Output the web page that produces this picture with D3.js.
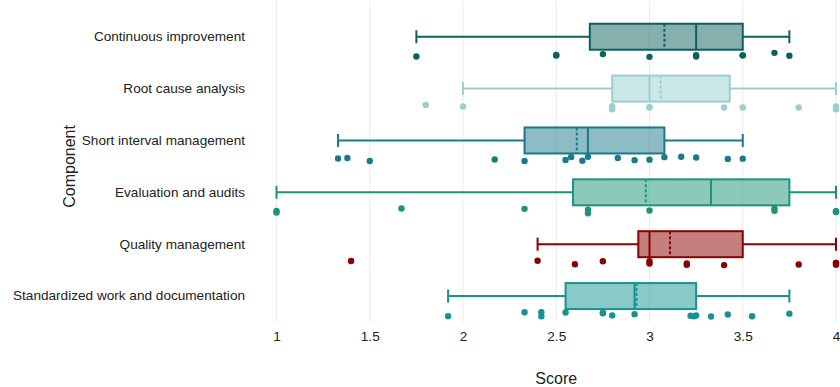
<!DOCTYPE html>
<html>
<head>
<meta charset="utf-8">
<script src="https://cdn.jsdelivr.net/npm/d3@7/dist/d3.min.js"></script>
<style>
  html, body { margin: 0; padding: 0; background: #fff; }
  svg { display: block; font-family: "Liberation Sans", Arial, sans-serif; }
</style>
</head>
<body>
<svg id="chart" width="840" height="387"></svg>
<script>
// ---- Data ----
const categories = [
  "Continuous improvement",
  "Root cause analysis",
  "Short interval management",
  "Evaluation and audits",
  "Quality management",
  "Standardized work and documentation"
];
const colors = ["#0c615c", "#9acfd0", "#1b7a8a", "#1b9478", "#8b0000", "#149490"];

const whiskerLow  = [1.75, 2.00, 1.33, 1.00, 2.40, 1.92];
const q1Values    = [2.68, 2.80, 2.33, 2.59, 2.94, 2.55];
const medians     = [3.25, 3.00, 2.67, 3.33, 3.00, 2.92];
const means       = [3.08, 3.06, 2.61, 2.98, 3.11, 2.93];
const q3Values    = [3.50, 3.43, 3.08, 3.75, 3.50, 3.25];
const whiskerHigh = [3.75, 4.00, 3.50, 4.00, 4.00, 3.75];

const pointsCI  = [1.75, 2.5, 2.5, 2.75, 3.0, 3.25, 3.25, 3.5, 3.5, 3.67, 3.75];
const pointsRCA = [1.8, 2.0, 2.8, 2.8, 3.0, 3.0, 3.4, 3.5, 3.8, 4.0, 4.0];
const pointsSIM = [1.33, 1.38, 1.5, 2.17, 2.33, 2.55, 2.58, 2.64, 2.67, 2.83, 2.92, 3.0, 3.08, 3.17, 3.25, 3.42, 3.5];
const pointsEA  = [1.0, 1.0, 1.67, 2.33, 2.67, 2.67, 3.0, 3.67, 3.67, 4.0, 4.0, 4.0];
const pointsQM  = [1.4, 2.4, 2.6, 2.75, 3.0, 3.0, 3.2, 3.2, 3.4, 3.8, 4.0, 4.0, 4.0];
const pointsSW  = [1.92, 2.33, 2.42, 2.42, 2.55, 2.75, 2.75, 2.8, 2.92, 3.22, 3.24, 3.25, 3.33, 3.42, 3.55, 3.75];
const pointSets = [pointsCI, pointsRCA, pointsSIM, pointsEA, pointsQM, pointsSW];

const xTicks = [1, 1.5, 2, 2.5, 3, 3.5, 4];
const xTitle = "Score";
const yTitle = "Component";

// ---- Layout ----
const svg = d3.select("#chart");
const plot = { left: 276.5, right: 836, top: 10.8, bottom: 322 };

const x = d3.scaleLinear().domain([1, 4]).range([plot.left, plot.right]);
const y = d3.scaleBand().domain(categories).range([plot.top, plot.bottom]);
const bw = y.bandwidth();
const boxH = 26;
const capH = 13;

// gridlines
svg.append("g").selectAll("line").data(xTicks).join("line")
  .attr("x1", d => x(d)).attr("x2", d => x(d))
  .attr("y1", plot.top - 10).attr("y2", plot.bottom)
  .attr("stroke", "#ebebeb").attr("stroke-width", 1);

// x axis
const xAxis = d3.axisBottom(x).tickValues(xTicks).tickSize(0).tickPadding(0)
  .tickFormat(d3.format("~g"));
const gx = svg.append("g").attr("transform", `translate(0,${plot.bottom})`).call(xAxis);
gx.select(".domain").remove();
gx.selectAll("text").attr("font-size", 13.6).attr("fill", "#222")
  .attr("font-family", "'Liberation Sans', Arial, sans-serif")
  .attr("dy", null).attr("y", 18.5);

// y axis
const yAxis = d3.axisLeft(y).tickSize(0).tickPadding(31.5);
const gy = svg.append("g").attr("transform", `translate(${plot.left},0)`).call(yAxis);
gy.select(".domain").remove();
gy.selectAll("text").attr("font-size", 13.6).attr("fill", "#222")
  .attr("font-family", "'Liberation Sans', Arial, sans-serif");

// axis titles
svg.append("text").attr("x", (plot.left + plot.right) / 2).attr("y", 384)
  .attr("text-anchor", "middle").attr("font-size", 16).attr("fill", "#222").text(xTitle);
svg.append("text").attr("transform", `translate(75,${(plot.top + plot.bottom) / 2}) rotate(-90)`)
  .attr("text-anchor", "middle").attr("font-size", 16).attr("fill", "#222").text(yTitle);

// deterministic jitter for point placement
function jitter(i, r) {
  const h = Math.sin((i + 1) * 12.9898 + (r + 1) * 78.233) * 43758.5453;
  return h - Math.floor(h);
}

// boxes
categories.forEach((cat, r) => {
  const cy = y(cat) + bw / 2;
  const col = colors[r];
  const g = svg.append("g");

  g.append("line")
    .attr("x1", x(whiskerLow[r])).attr("x2", x(q1Values[r]))
    .attr("y1", cy).attr("y2", cy).attr("stroke", col).attr("stroke-width", 2);
  g.append("line")
    .attr("x1", x(q3Values[r])).attr("x2", x(whiskerHigh[r]))
    .attr("y1", cy).attr("y2", cy).attr("stroke", col).attr("stroke-width", 2);
  [whiskerLow[r], whiskerHigh[r]].forEach(v => {
    g.append("line")
      .attr("x1", x(v)).attr("x2", x(v))
      .attr("y1", cy - capH / 2).attr("y2", cy + capH / 2)
      .attr("stroke", col).attr("stroke-width", 2);
  });
  g.append("rect")
    .attr("x", x(q1Values[r])).attr("y", cy - boxH / 2)
    .attr("width", x(q3Values[r]) - x(q1Values[r])).attr("height", boxH)
    .attr("fill", col).attr("fill-opacity", 0.5)
    .attr("stroke", col).attr("stroke-width", 2);
  g.append("line")
    .attr("x1", x(medians[r])).attr("x2", x(medians[r]))
    .attr("y1", cy - boxH / 2).attr("y2", cy + boxH / 2)
    .attr("stroke", col).attr("stroke-width", 2);
  g.append("line")
    .attr("x1", x(means[r])).attr("x2", x(means[r]))
    .attr("y1", cy - boxH / 2).attr("y2", cy + boxH / 2)
    .attr("stroke", col).attr("stroke-width", 2).attr("stroke-dasharray", "3,2");

  g.selectAll("circle").data(pointSets[r]).join("circle")
    .attr("cx", d => x(d))
    .attr("cy", (d, i) => cy + 16 + jitter(i, r) * 5)
    .attr("r", 3.2)
    .attr("fill", col);
});
</script>
</body>
</html>
